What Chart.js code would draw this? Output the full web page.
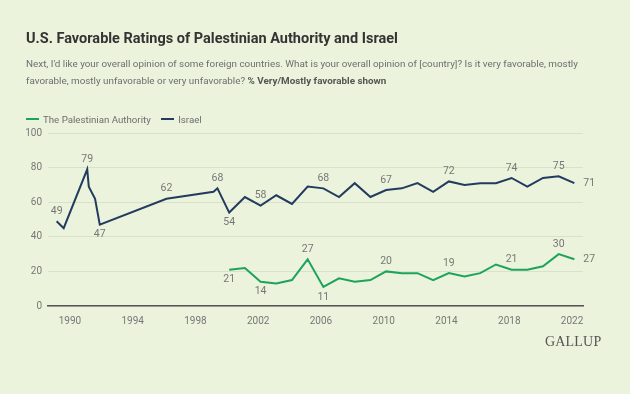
<!DOCTYPE html>
<html>
<head>
<meta charset="utf-8">
<script src="https://cdn.jsdelivr.net/npm/chart.js@4"></script>
<style>
    html, body {
        margin: 0;
        padding: 0;
        background: #ebf3dc;
    }
    #wrap {
        position: relative;
        width: 630px;
        height: 394px;
        overflow: hidden;
        font-family: Roboto, "Noto Sans", sans-serif;
    }
    #chart {
        position: absolute;
        left: 0;
        top: 0;
    }
    .title {
        position: absolute;
        left: 26px;
        top: 30px;
        font-size: 14.5px;
        font-weight: bold;
        color: #333;
        white-space: nowrap;
    }
    .subtitle {
        position: absolute;
        left: 26px;
        top: 55px;
        width: 590px;
        font-size: 9.85px;
        line-height: 17px;
        color: #6e6e6e;
    }
    .subtitle b {
        color: #555;
    }
    .legend {
        position: absolute;
        left: 26px;
        top: 114px;
        font-size: 9.7px;
        color: #6e6e6e;
        white-space: nowrap;
    }
    .legend span.item {
        display: inline-block;
        margin-right: 8px;
    }
    .legend i {
        display: inline-block;
        width: 13px;
        height: 2px;
        vertical-align: middle;
        margin-right: 4px;
        margin-top: -2px;
    }
    .logo {
        position: absolute;
        left: 545px;
        top: 334px;
        font-family: "Liberation Serif", "DejaVu Serif", serif;
        font-size: 14px;
        color: #555;
        letter-spacing: 0.2px;
    }
</style>
</head>
<body>
<div id="wrap">
    <canvas id="chart" width="630" height="394"></canvas>
    <div class="title">U.S. Favorable Ratings of Palestinian Authority and Israel</div>
    <div class="subtitle">Next, I'd like your overall opinion of some foreign countries. What is your overall opinion of [country]? Is it very favorable, mostly favorable, mostly unfavorable or very unfavorable? <b>% Very/Mostly favorable shown</b></div>
    <div class="legend">
        <span class="item"><i style="background:#1ea35a"></i>The Palestinian Authority</span>
        <span class="item"><i style="background:#233b5e"></i>Israel</span>
    </div>
    <div class="logo">GALLUP</div>
</div>
<script>
// Survey dates (decimal years) and values
const israelDates = [1989.15, 1989.6, 1991.1, 1991.2, 1991.6, 1991.9, 1996.15, 1999.15, 1999.4,
    2000.15, 2001.15, 2002.15, 2003.15, 2004.15, 2005.15, 2006.15, 2007.15, 2008.15, 2009.15,
    2010.15, 2011.15, 2012.15, 2013.15, 2014.15, 2015.15, 2016.15, 2017.15, 2018.15, 2019.15,
    2020.15, 2021.15, 2022.15];
const israelValues = [49, 45, 79, 69, 62, 47, 62, 66, 68,
    54, 63, 58, 64, 59, 69, 68, 63, 71, 63,
    67, 68, 71, 66, 72, 70, 71, 71, 74, 69,
    74, 75, 71];

const paDates = [2000.15, 2001.15, 2002.15, 2003.15, 2004.15, 2005.15, 2006.15, 2007.15, 2008.15,
    2009.15, 2010.15, 2011.15, 2012.15, 2013.15, 2014.15, 2015.15, 2016.15, 2017.15, 2018.15,
    2019.15, 2020.15, 2021.15, 2022.15];
const paValues = [21, 22, 14, 13, 15, 27, 11, 16, 14,
    15, 20, 19, 19, 15, 19, 17, 19, 24, 21,
    21, 23, 30, 27];

// Axis ticks
const xTicks = [1990, 1994, 1998, 2002, 2006, 2010, 2014, 2018, 2022];
const yTicks = [0, 20, 40, 60, 80, 100];

// Which points get a value label, and where it sits
const israelLabelSpots = [[0, 'top'], [2, 'top'], [5, 'bottom'], [6, 'top'], [8, 'top'], [9, 'bottom'],
    [11, 'top'], [15, 'top'], [19, 'top'], [23, 'top'], [27, 'top'], [30, 'top'], [31, 'right']];
const paLabelSpots = [[0, 'bottom'], [2, 'bottom'], [5, 'top'], [6, 'bottom'], [10, 'top'],
    [14, 'top'], [18, 'top'], [21, 'top'], [22, 'right']];

const toPoints = (dates, values) => dates.map((d, i) => ({ x: d, y: values[i] }));

/**
 * Draw value labels next to chosen points
 */
const valueLabels = {
    id: 'valueLabels',
    afterDatasetsDraw(chart) {
        const ctx = chart.ctx;
        ctx.save();
        ctx.font = '10.5px Roboto, "Noto Sans", sans-serif';
        ctx.fillStyle = '#777';
        ctx.textBaseline = 'middle';
        chart.data.datasets.forEach((ds, i) => {
            const meta = chart.getDatasetMeta(i);
            ds.labelSpots.forEach(([idx, pos]) => {
                const el = meta.data[idx];
                const text = String(ds.data[idx].y);
                if (pos === 'right') {
                    ctx.textAlign = 'left';
                    ctx.fillText(text, el.x + 9, el.y);
                } else {
                    ctx.textAlign = 'center';
                    ctx.fillText(text, el.x, pos === 'top' ? el.y - 10 : el.y + 10);
                }
            });
        });
        ctx.restore();
    }
};

const chartCanvas = document.getElementById('chart');
new Chart(chartCanvas, {
    type: 'line',
    data: {
        datasets: [{
            label: 'The Palestinian Authority',
            data: toPoints(paDates, paValues),
            labelSpots: paLabelSpots,
            borderColor: '#1ea35a',
            borderWidth: 2,
            pointRadius: 0,
            tension: 0
        }, {
            label: 'Israel',
            data: toPoints(israelDates, israelValues),
            labelSpots: israelLabelSpots,
            borderColor: '#233b5e',
            borderWidth: 2,
            pointRadius: 0,
            tension: 0
        }]
    },
    options: {
        responsive: false,
        animation: false,
        layout: {
            padding: { left: 0, right: 47, top: 133, bottom: 58 }
        },
        plugins: {
            legend: { display: false },
            tooltip: { enabled: false }
        },
        scales: {
            x: {
                type: 'linear',
                min: 1988.6,
                max: 2022.7,
                afterBuildTicks: scale => {
                    scale.ticks = xTicks.map(v => ({ value: v }));
                },
                afterFit: scale => {
                    scale.height = 30;
                },
                grid: { display: false, drawTicks: false },
                border: { display: true, color: '#555', width: 1.5 },
                ticks: {
                    padding: 9,
                    color: '#777',
                    font: { family: 'Roboto', size: 10 },
                    autoSkip: false,
                    maxRotation: 0,
                    callback: v => String(v)
                }
            },
            y: {
                min: 0,
                max: 100,
                afterBuildTicks: scale => {
                    scale.ticks = yTicks.map(v => ({ value: v }));
                },
                afterFit: scale => {
                    scale.width = 48;
                },
                grid: { color: '#d8e1c9', lineWidth: 1, drawTicks: false },
                border: { display: false },
                ticks: {
                    padding: 6,
                    color: '#777',
                    font: { family: 'Roboto', size: 10 }
                }
            }
        }
    },
    plugins: [valueLabels]
});
</script>
</body>
</html>
